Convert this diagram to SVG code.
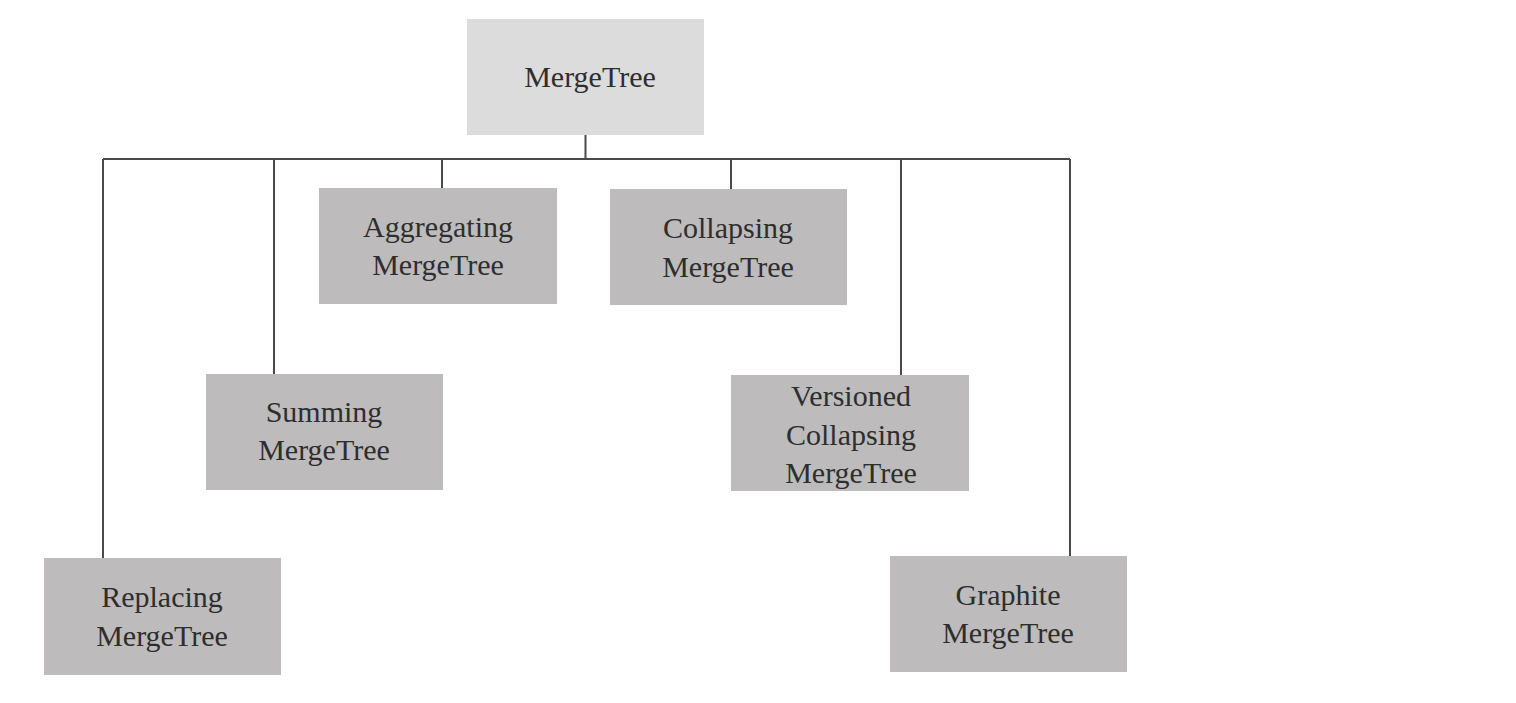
<svg xmlns="http://www.w3.org/2000/svg" width="1516" height="703" viewBox="0 0 1516 703">
<style>
.box{fill:#bdbbbc;}
.root{fill:#dcdcdc;}
text{font-family:"Liberation Serif","Times New Roman",serif;font-size:30px;fill:#2e2e2e;text-anchor:middle;}
.ln{stroke:#4a4a4a;stroke-width:2;fill:none;}
</style>
<rect width="1516" height="703" fill="#ffffff"/>
<g id="connectors">
<path class="ln" d="M585.5 135V159M103 159H1070M103 159V558M274 159V374M442 159V188M731 159V189M901 159V375M1070 159V556"/>
</g>
<g id="mergetree">
<rect class="root" x="467" y="19" width="237" height="116"/>
<text x="590" y="87">MergeTree</text>
</g>
<g id="aggregating">
<rect class="box" x="319" y="188" width="238" height="116"/>
<text x="438" y="237">Aggregating</text>
<text x="438" y="275">MergeTree</text>
</g>
<g id="collapsing">
<rect class="box" x="610" y="189" width="237" height="116"/>
<text x="728" y="238">Collapsing</text>
<text x="728" y="277">MergeTree</text>
</g>
<g id="summing">
<rect class="box" x="206" y="374" width="237" height="116"/>
<text x="324" y="422">Summing</text>
<text x="324" y="460">MergeTree</text>
</g>
<g id="versioned">
<rect class="box" x="731" y="375" width="238" height="116"/>
<text x="851" y="406">Versioned</text>
<text x="851" y="445">Collapsing</text>
<text x="851" y="483">MergeTree</text>
</g>
<g id="replacing">
<rect class="box" x="44" y="558" width="237" height="117"/>
<text x="162" y="607">Replacing</text>
<text x="162" y="646">MergeTree</text>
</g>
<g id="graphite">
<rect class="box" x="890" y="556" width="237" height="116"/>
<text x="1008" y="605">Graphite</text>
<text x="1008" y="643">MergeTree</text>
</g>
</svg>
